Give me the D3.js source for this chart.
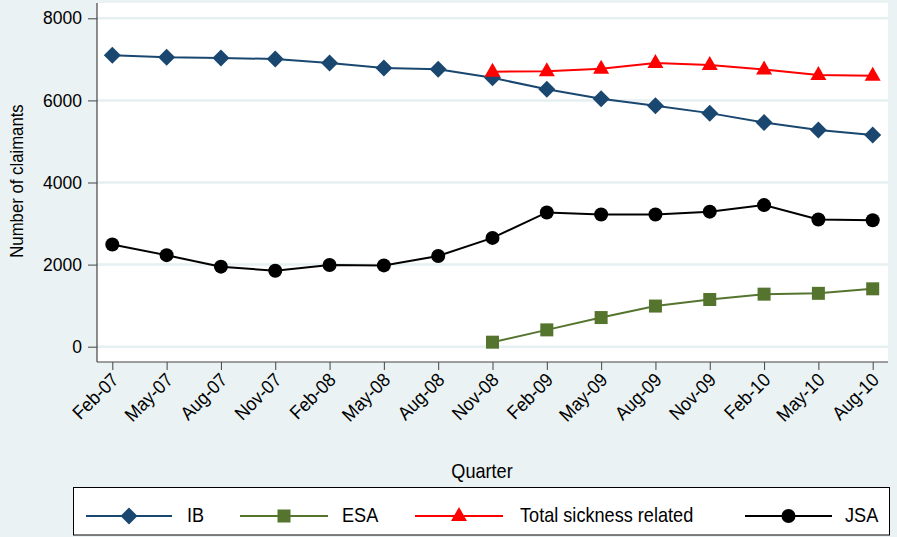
<!DOCTYPE html>
<html><head><meta charset="utf-8">
<script src="https://cdn.jsdelivr.net/npm/d3@7"></script>
<style>body{margin:0;background:#eaf2f3;}svg{display:block;font-family:"Liberation Sans",Arial,sans-serif;}</style>
</head><body><svg id="c" width="897" height="537"></svg>
<script>
const quarters = ["Feb-07","May-07","Aug-07","Nov-07","Feb-08","May-08","Aug-08","Nov-08","Feb-09","May-09","Aug-09","Nov-09","Feb-10","May-10","Aug-10"];
const ib = [7100,7050,7030,7010,6910,6790,6760,6550,6270,6040,5870,5690,5460,5280,5160];
const esa = [null,null,null,null,null,null,null,110,410,710,990,1150,1280,1300,1410];
const totalSick = [null,null,null,null,null,null,null,6700,6710,6770,6910,6860,6750,6620,6600];
const jsa = [2490,2230,1950,1850,1990,1980,2210,2650,3270,3220,3220,3290,3450,3100,3080];
const yTicks = [0,2000,4000,6000,8000];

const svg = d3.select("#c");
const W = 897, H = 537;
const SX = 0.93; // horizontal condensing of text
svg.append("rect").attr("width",W).attr("height",H).attr("fill","#eaf2f3");
const L = 97, R = 888, T = 3, B = 362;
svg.append("rect").attr("x",L).attr("y",T).attr("width",R-L).attr("height",B-T).attr("fill","#fff");

const x = d3.scalePoint().domain(quarters).range([112.3,872.7]);
const y = d3.scaleLinear().domain([0,8000]).range([346.7,18.3]);

// gridlines
svg.append("g").selectAll("line").data(yTicks).join("line")
  .attr("x1",L).attr("x2",R).attr("y1",d=>y(d)).attr("y2",d=>y(d))
  .attr("stroke","#e6eff1").attr("stroke-width",2.5);

// axes
const yAxis = d3.axisLeft(y).tickValues(yTicks).tickSize(9).tickPadding(6).tickFormat(d3.format("d"));
const gy = svg.append("g").attr("transform",`translate(${L},0)`).call(yAxis);
gy.select(".domain").remove();
gy.selectAll("line").attr("stroke","#444");
gy.selectAll("text").attr("font-size",17.5).attr("fill","#000");
svg.append("line").attr("x1",L).attr("x2",L).attr("y1",T).attr("y2",B).attr("stroke","#444").attr("stroke-width",1.2);

const xAxis = d3.axisBottom(x).tickSize(8).tickFormat(d=>d);
const gx = svg.append("g").attr("transform",`translate(0,${B})`).call(xAxis);
gx.select(".domain").remove();
gx.selectAll("line").attr("stroke","#444");
gx.selectAll("text").attr("font-size",19).attr("fill","#000")
  .attr("text-anchor","end").attr("dy",null).attr("y",0)
  .attr("transform",`translate(7,19) rotate(-45) scale(${SX},1)`);
svg.append("line").attr("x1",L).attr("x2",R).attr("y1",B).attr("y2",B).attr("stroke","#444").attr("stroke-width",1.2);

svg.append("text").attr("transform",`translate(23,181) rotate(-90) scale(${SX},1)`).attr("text-anchor","middle")
  .attr("font-size",18).text("Number of claimants");
svg.append("text").attr("transform",`translate(482,478) scale(${SX},1)`).attr("text-anchor","middle").attr("font-size",19.5).text("Quarter");

const series = [
  {name:"IB", data:ib, color:"#1a476f", shape:"diamond"},
  {name:"ESA", data:esa, color:"#55752f", shape:"square"},
  {name:"Total sickness related", data:totalSick, color:"#ff0000", shape:"triangle"},
  {name:"JSA", data:jsa, color:"#000000", shape:"circle"}
];
function marker(g, shape, color){
  if(shape==="diamond") g.append("path").attr("d","M0,-8.5L8.5,0L0,8.5L-8.5,0Z").attr("fill",color);
  else if(shape==="square") g.append("rect").attr("x",-6.5).attr("y",-6.5).attr("width",13).attr("height",13).attr("fill",color);
  else if(shape==="triangle") g.append("path").attr("d","M0,-9L8,5L-8,5Z").attr("fill",color);
  else g.append("circle").attr("r",7).attr("fill",color);
}
const line = d3.line().defined(d=>d.v!=null).x(d=>x(d.q)).y(d=>y(d.v));
series.forEach(s=>{
  const pts = quarters.map((q,i)=>({q, v:s.data[i]}));
  svg.append("path").datum(pts).attr("d",line).attr("fill","none").attr("stroke",s.color).attr("stroke-width",2);
  pts.filter(d=>d.v!=null).forEach(d=>{
    const g = svg.append("g").attr("transform",`translate(${x(d.q)},${y(d.v)})`);
    marker(g, s.shape, s.color);
  });
});

// legend
svg.append("rect").attr("x",73.5).attr("y",487.5).attr("width",816).attr("height",47.5).attr("fill","#fff").attr("stroke","#000").attr("stroke-width",1);
const leg = [{x1:86,x2:172,tx:187},{x1:240,x2:328,tx:342},{x1:415,x2:503,tx:520},{x1:745,x2:832,tx:845}];
series.forEach((s,i)=>{
  const l = leg[i], ly = 516;
  svg.append("line").attr("x1",l.x1).attr("x2",l.x2).attr("y1",ly).attr("y2",ly).attr("stroke",s.color).attr("stroke-width",2);
  const g = svg.append("g").attr("transform",`translate(${(l.x1+l.x2)/2},${ly})`);
  marker(g, s.shape, s.color);
  svg.append("text").attr("transform",`translate(${l.tx},${ly+6}) scale(${SX},1)`).attr("font-size",19.5).text(s.name);
});
</script></body></html>
